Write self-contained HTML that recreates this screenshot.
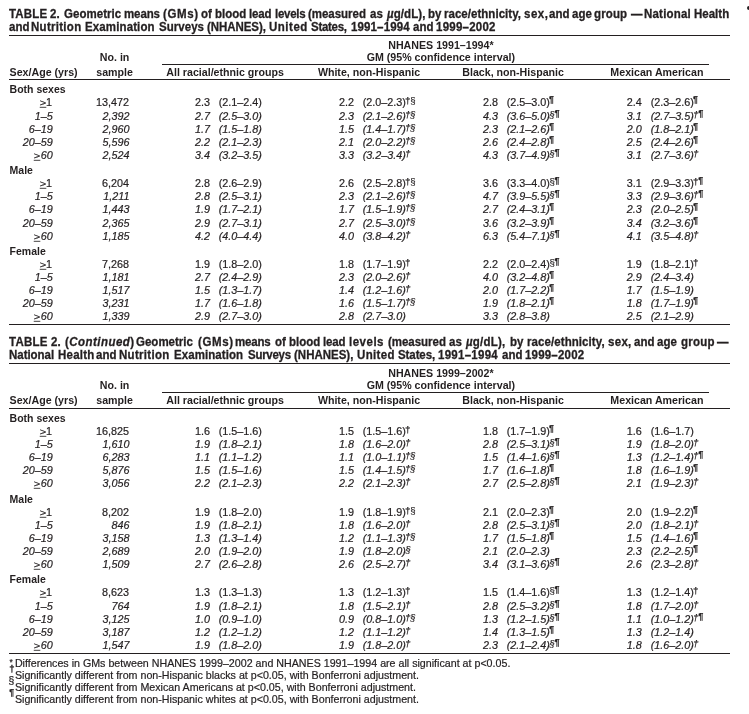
<!DOCTYPE html>
<html lang="en"><head><meta charset="utf-8"><title>TABLE 2</title><style>
html,body{margin:0;padding:0;background:#fff}
body{width:749px;height:714px;position:relative;overflow:hidden;font-family:"Liberation Sans",sans-serif;color:#231f20;font-size:10.80px}
.t{-webkit-text-stroke:0.2px #231f20;position:absolute;white-space:nowrap;line-height:14px;font-size:10.80px}
.t span{white-space:nowrap}
.b{font-weight:bold;-webkit-text-stroke:0}
.tt{transform:scaleX(0.9274);transform-origin:0 0;-webkit-text-stroke:0.3px #231f20}
.i{font-style:italic}
.ge{font-style:normal;text-decoration:underline;display:inline-block;transform:scale(1.04,0.84);transform-origin:100% 78.6%}
.r{position:absolute;background:#231f20}
.sup{margin-left:-0.8px;line-height:1px}
.sd,.ss,.sp{position:relative;line-height:1px}
.sd{font-size:9.8px;top:-2px;-webkit-text-stroke:0.22px #231f20}
.ss{font-size:9.6px;top:-2px;margin-left:-0.4px;-webkit-text-stroke:0.15px #231f20}
.s1{margin-left:0.4px}
.ss+.sp,.sd+.sp{margin-left:-0.4px}
.sp{font-size:8.8px;top:-4px;font-weight:bold}
.pp{font-weight:bold}
.fsd{-webkit-text-stroke:0.35px #231f20}
.fs{font-size:8px}
</style></head><body>
<div class="t b tt" style="left:8.88px;top:7.00px;font-size:12.40px;letter-spacing:0.202px">TABLE</div>
<div class="t b tt" style="left:49.80px;top:7.00px;font-size:12.40px;">2.</div>
<div class="t b tt" style="left:63.65px;top:7.00px;font-size:12.40px;letter-spacing:0.040px">Geometric</div>
<div class="t b tt" style="left:123.78px;top:7.00px;font-size:12.40px;letter-spacing:-0.121px">means</div>
<div class="t b tt" style="left:162.75px;top:7.00px;font-size:12.40px;letter-spacing:0.674px">(GMs)</div>
<div class="t b tt" style="left:200.80px;top:7.00px;font-size:12.40px;">of</div>
<div class="t b tt" style="left:215.45px;top:7.00px;font-size:12.40px;letter-spacing:-0.027px">blood</div>
<div class="t b tt" style="left:248.75px;top:7.00px;font-size:12.40px;letter-spacing:-0.180px">lead</div>
<div class="t b tt" style="left:274.85px;top:7.00px;font-size:12.40px;letter-spacing:-0.300px">levels</div>
<div class="t b tt" style="left:308.40px;top:7.00px;font-size:12.40px;letter-spacing:-0.027px">(measured</div>
<div class="t b tt" style="left:370.00px;top:7.00px;font-size:12.40px;">as</div>
<div class="t b tt" style="left:386.73px;top:7.00px;font-size:12.40px;letter-spacing:0.081px"><i>µ</i>g/dL),</div>
<div class="t b tt" style="left:427.50px;top:7.00px;font-size:12.40px;">by</div>
<div class="t b tt" style="left:443.75px;top:7.00px;font-size:12.40px;letter-spacing:0.039px">race/ethnicity,</div>
<div class="t b tt" style="left:523.75px;top:7.00px;font-size:12.40px;letter-spacing:0.539px">sex,</div>
<div class="t b tt" style="left:548.50px;top:7.00px;font-size:12.40px;">and</div>
<div class="t b tt" style="left:572.00px;top:7.00px;font-size:12.40px;">age</div>
<div class="t b tt" style="left:593.75px;top:7.00px;font-size:12.40px;letter-spacing:0.135px">group</div>
<div class="t b tt" style="left:631.10px;top:7.00px;font-size:12.40px;">—</div>
<div class="t b tt" style="left:643.72px;top:7.00px;font-size:12.40px;letter-spacing:0.223px">National</div>
<div class="t b tt" style="left:693.53px;top:7.00px;font-size:12.40px;letter-spacing:0.011px">Health</div>
<div class="t b tt" style="left:8.60px;top:20.00px;font-size:12.40px;">and</div>
<div class="t b tt" style="left:31.15px;top:20.00px;font-size:12.40px;letter-spacing:0.310px">Nutrition</div>
<div class="t b tt" style="left:85.12px;top:20.00px;font-size:12.40px;letter-spacing:0.135px">Examination</div>
<div class="t b tt" style="left:158.62px;top:20.00px;font-size:12.40px;letter-spacing:0.045px">Surveys</div>
<div class="t b tt" style="left:207.25px;top:20.00px;font-size:12.40px;letter-spacing:-0.067px">(NHANES),</div>
<div class="t b tt" style="left:269.27px;top:20.00px;font-size:12.40px;letter-spacing:0.550px">United</div>
<div class="t b tt" style="left:311.32px;top:20.00px;font-size:12.40px;letter-spacing:-0.300px">States,</div>
<div class="t b tt" style="left:350.55px;top:20.00px;font-size:12.40px;letter-spacing:0.148px">1991–1994</div>
<div class="t b tt" style="left:413.10px;top:20.00px;font-size:12.40px;">and</div>
<div class="t b tt" style="left:436.45px;top:20.00px;font-size:12.40px;letter-spacing:0.256px">1999–2002</div>
<div class="r" style="left:9.10px;width:721.10px;top:35.00px;height:1.00px"></div>
<div class="t b" style="left:440.90px;width:0;display:flex;justify-content:center;top:38.00px;font-size:10.65px;"><span>NHANES 1991–1994*</span></div>
<div class="t b" style="left:440.90px;width:0;display:flex;justify-content:center;top:50.00px;font-size:10.65px;"><span>GM (95% confidence interval)</span></div>
<div class="t b" style="left:114.60px;width:0;display:flex;justify-content:center;top:50.00px;font-size:10.65px;"><span>No. in</span></div>
<div class="r" style="left:162.00px;width:546.80px;top:64.00px;height:1.00px"></div>
<div class="t b" style="left:9.60px;top:65.00px;font-size:10.65px;">Sex/Age (yrs)</div>
<div class="t b" style="left:114.60px;width:0;display:flex;justify-content:center;top:65.00px;font-size:10.65px;"><span>sample</span></div>
<div class="t b" style="left:225.10px;width:0;display:flex;justify-content:center;top:65.00px;font-size:10.65px;"><span>All racial/ethnic groups</span></div>
<div class="t b" style="left:369.00px;width:0;display:flex;justify-content:center;top:65.00px;font-size:10.65px;"><span>White, non-Hispanic</span></div>
<div class="t b" style="left:513.10px;width:0;display:flex;justify-content:center;top:65.00px;font-size:10.65px;"><span>Black, non-Hispanic</span></div>
<div class="t b" style="left:656.90px;width:0;display:flex;justify-content:center;top:65.00px;font-size:10.65px;"><span>Mexican American</span></div>
<div class="r" style="left:9.10px;width:721.10px;top:79.00px;height:1.00px"></div>
<div class="t b" style="left:9.60px;top:82.00px;font-size:10.50px;">Both sexes</div>
<div class="t " style="right:697.00px;top:95.00px;"><span class="ge">&gt;</span>1</div>
<div class="t " style="right:620.10px;top:95.00px;">13,472</div>
<div class="t " style="left:195.10px;top:95.00px;">2.3</div>
<div class="t " style="left:218.70px;top:95.00px;">(2.1–2.4)</div>
<div class="t " style="left:339.10px;top:95.00px;">2.2</div>
<div class="t " style="left:362.70px;top:95.00px;">(2.0–2.3)<span class="sup"><span class="sd">†</span><span class="ss">§</span></span></div>
<div class="t " style="left:483.00px;top:95.00px;">2.8</div>
<div class="t " style="left:506.70px;top:95.00px;">(2.5–3.0)<span class="sup"><span class="sp">¶</span></span></div>
<div class="t " style="left:626.70px;top:95.00px;">2.4</div>
<div class="t " style="left:650.70px;top:95.00px;">(2.3–2.6)<span class="sup"><span class="sp">¶</span></span></div>
<div class="t i" style="right:696.30px;top:109.00px;">1–5</div>
<div class="t i" style="right:619.50px;top:109.00px;">2,392</div>
<div class="t i" style="left:195.10px;top:109.00px;">2.7</div>
<div class="t i" style="left:218.70px;top:109.00px;">(2.5–3.0)</div>
<div class="t i" style="left:339.10px;top:109.00px;">2.3</div>
<div class="t i" style="left:362.70px;top:109.00px;">(2.1–2.6)<span class="sup"><span class="sd">†</span><span class="ss">§</span></span></div>
<div class="t i" style="left:483.00px;top:109.00px;">4.3</div>
<div class="t i" style="left:506.70px;top:109.00px;">(3.6–5.0)<span class="sup"><span class="ss s1">§</span><span class="sp">¶</span></span></div>
<div class="t i" style="left:626.70px;top:109.00px;">3.1</div>
<div class="t i" style="left:650.70px;top:109.00px;">(2.7–3.5)<span class="sup"><span class="sd">†</span><span class="sp">¶</span></span></div>
<div class="t i" style="right:696.30px;top:122.00px;">6–19</div>
<div class="t i" style="right:619.50px;top:122.00px;">2,960</div>
<div class="t i" style="left:195.10px;top:122.00px;">1.7</div>
<div class="t i" style="left:218.70px;top:122.00px;">(1.5–1.8)</div>
<div class="t i" style="left:339.10px;top:122.00px;">1.5</div>
<div class="t i" style="left:362.70px;top:122.00px;">(1.4–1.7)<span class="sup"><span class="sd">†</span><span class="ss">§</span></span></div>
<div class="t i" style="left:483.00px;top:122.00px;">2.3</div>
<div class="t i" style="left:506.70px;top:122.00px;">(2.1–2.6)<span class="sup"><span class="sp">¶</span></span></div>
<div class="t i" style="left:626.70px;top:122.00px;">2.0</div>
<div class="t i" style="left:650.70px;top:122.00px;">(1.8–2.1)<span class="sup"><span class="sp">¶</span></span></div>
<div class="t i" style="right:696.30px;top:135.00px;">20–59</div>
<div class="t i" style="right:619.50px;top:135.00px;">5,596</div>
<div class="t i" style="left:195.10px;top:135.00px;">2.2</div>
<div class="t i" style="left:218.70px;top:135.00px;">(2.1–2.3)</div>
<div class="t i" style="left:339.10px;top:135.00px;">2.1</div>
<div class="t i" style="left:362.70px;top:135.00px;">(2.0–2.2)<span class="sup"><span class="sd">†</span><span class="ss">§</span></span></div>
<div class="t i" style="left:483.00px;top:135.00px;">2.6</div>
<div class="t i" style="left:506.70px;top:135.00px;">(2.4–2.8)<span class="sup"><span class="sp">¶</span></span></div>
<div class="t i" style="left:626.70px;top:135.00px;">2.5</div>
<div class="t i" style="left:650.70px;top:135.00px;">(2.4–2.6)<span class="sup"><span class="sp">¶</span></span></div>
<div class="t i" style="right:696.30px;top:148.00px;"><span class="ge">&gt;</span>60</div>
<div class="t i" style="right:619.50px;top:148.00px;">2,524</div>
<div class="t i" style="left:195.10px;top:148.00px;">3.4</div>
<div class="t i" style="left:218.70px;top:148.00px;">(3.2–3.5)</div>
<div class="t i" style="left:339.10px;top:148.00px;">3.3</div>
<div class="t i" style="left:362.70px;top:148.00px;">(3.2–3.4)<span class="sup"><span class="sd">†</span></span></div>
<div class="t i" style="left:483.00px;top:148.00px;">4.3</div>
<div class="t i" style="left:506.70px;top:148.00px;">(3.7–4.9)<span class="sup"><span class="ss s1">§</span><span class="sp">¶</span></span></div>
<div class="t i" style="left:626.70px;top:148.00px;">3.1</div>
<div class="t i" style="left:650.70px;top:148.00px;">(2.7–3.6)<span class="sup"><span class="sd">†</span></span></div>
<div class="t b" style="left:9.60px;top:163.00px;font-size:10.50px;">Male</div>
<div class="t " style="right:697.00px;top:176.00px;"><span class="ge">&gt;</span>1</div>
<div class="t " style="right:620.10px;top:176.00px;">6,204</div>
<div class="t " style="left:195.10px;top:176.00px;">2.8</div>
<div class="t " style="left:218.70px;top:176.00px;">(2.6–2.9)</div>
<div class="t " style="left:339.10px;top:176.00px;">2.6</div>
<div class="t " style="left:362.70px;top:176.00px;">(2.5–2.8)<span class="sup"><span class="sd">†</span><span class="ss">§</span></span></div>
<div class="t " style="left:483.00px;top:176.00px;">3.6</div>
<div class="t " style="left:506.70px;top:176.00px;">(3.3–4.0)<span class="sup"><span class="ss s1">§</span><span class="sp">¶</span></span></div>
<div class="t " style="left:626.70px;top:176.00px;">3.1</div>
<div class="t " style="left:650.70px;top:176.00px;">(2.9–3.3)<span class="sup"><span class="sd">†</span><span class="sp">¶</span></span></div>
<div class="t i" style="right:696.30px;top:189.00px;">1–5</div>
<div class="t i" style="right:619.50px;top:189.00px;">1,211</div>
<div class="t i" style="left:195.10px;top:189.00px;">2.8</div>
<div class="t i" style="left:218.70px;top:189.00px;">(2.5–3.1)</div>
<div class="t i" style="left:339.10px;top:189.00px;">2.3</div>
<div class="t i" style="left:362.70px;top:189.00px;">(2.1–2.6)<span class="sup"><span class="sd">†</span><span class="ss">§</span></span></div>
<div class="t i" style="left:483.00px;top:189.00px;">4.7</div>
<div class="t i" style="left:506.70px;top:189.00px;">(3.9–5.5)<span class="sup"><span class="ss s1">§</span><span class="sp">¶</span></span></div>
<div class="t i" style="left:626.70px;top:189.00px;">3.3</div>
<div class="t i" style="left:650.70px;top:189.00px;">(2.9–3.6)<span class="sup"><span class="sd">†</span><span class="sp">¶</span></span></div>
<div class="t i" style="right:696.30px;top:202.00px;">6–19</div>
<div class="t i" style="right:619.50px;top:202.00px;">1,443</div>
<div class="t i" style="left:195.10px;top:202.00px;">1.9</div>
<div class="t i" style="left:218.70px;top:202.00px;">(1.7–2.1)</div>
<div class="t i" style="left:339.10px;top:202.00px;">1.7</div>
<div class="t i" style="left:362.70px;top:202.00px;">(1.5–1.9)<span class="sup"><span class="sd">†</span><span class="ss">§</span></span></div>
<div class="t i" style="left:483.00px;top:202.00px;">2.7</div>
<div class="t i" style="left:506.70px;top:202.00px;">(2.4–3.1)<span class="sup"><span class="sp">¶</span></span></div>
<div class="t i" style="left:626.70px;top:202.00px;">2.3</div>
<div class="t i" style="left:650.70px;top:202.00px;">(2.0–2.5)<span class="sup"><span class="sp">¶</span></span></div>
<div class="t i" style="right:696.30px;top:216.00px;">20–59</div>
<div class="t i" style="right:619.50px;top:216.00px;">2,365</div>
<div class="t i" style="left:195.10px;top:216.00px;">2.9</div>
<div class="t i" style="left:218.70px;top:216.00px;">(2.7–3.1)</div>
<div class="t i" style="left:339.10px;top:216.00px;">2.7</div>
<div class="t i" style="left:362.70px;top:216.00px;">(2.5–3.0)<span class="sup"><span class="sd">†</span><span class="ss">§</span></span></div>
<div class="t i" style="left:483.00px;top:216.00px;">3.6</div>
<div class="t i" style="left:506.70px;top:216.00px;">(3.2–3.9)<span class="sup"><span class="sp">¶</span></span></div>
<div class="t i" style="left:626.70px;top:216.00px;">3.4</div>
<div class="t i" style="left:650.70px;top:216.00px;">(3.2–3.6)<span class="sup"><span class="sp">¶</span></span></div>
<div class="t i" style="right:696.30px;top:229.00px;"><span class="ge">&gt;</span>60</div>
<div class="t i" style="right:619.50px;top:229.00px;">1,185</div>
<div class="t i" style="left:195.10px;top:229.00px;">4.2</div>
<div class="t i" style="left:218.70px;top:229.00px;">(4.0–4.4)</div>
<div class="t i" style="left:339.10px;top:229.00px;">4.0</div>
<div class="t i" style="left:362.70px;top:229.00px;">(3.8–4.2)<span class="sup"><span class="sd">†</span></span></div>
<div class="t i" style="left:483.00px;top:229.00px;">6.3</div>
<div class="t i" style="left:506.70px;top:229.00px;">(5.4–7.1)<span class="sup"><span class="ss s1">§</span><span class="sp">¶</span></span></div>
<div class="t i" style="left:626.70px;top:229.00px;">4.1</div>
<div class="t i" style="left:650.70px;top:229.00px;">(3.5–4.8)<span class="sup"><span class="sd">†</span></span></div>
<div class="t b" style="left:9.60px;top:244.00px;font-size:10.50px;">Female</div>
<div class="t " style="right:697.00px;top:257.00px;"><span class="ge">&gt;</span>1</div>
<div class="t " style="right:620.10px;top:257.00px;">7,268</div>
<div class="t " style="left:195.10px;top:257.00px;">1.9</div>
<div class="t " style="left:218.70px;top:257.00px;">(1.8–2.0)</div>
<div class="t " style="left:339.10px;top:257.00px;">1.8</div>
<div class="t " style="left:362.70px;top:257.00px;">(1.7–1.9)<span class="sup"><span class="sd">†</span></span></div>
<div class="t " style="left:483.00px;top:257.00px;">2.2</div>
<div class="t " style="left:506.70px;top:257.00px;">(2.0–2.4)<span class="sup"><span class="ss s1">§</span><span class="sp">¶</span></span></div>
<div class="t " style="left:626.70px;top:257.00px;">1.9</div>
<div class="t " style="left:650.70px;top:257.00px;">(1.8–2.1)<span class="sup"><span class="sd">†</span></span></div>
<div class="t i" style="right:696.30px;top:270.00px;">1–5</div>
<div class="t i" style="right:619.50px;top:270.00px;">1,181</div>
<div class="t i" style="left:195.10px;top:270.00px;">2.7</div>
<div class="t i" style="left:218.70px;top:270.00px;">(2.4–2.9)</div>
<div class="t i" style="left:339.10px;top:270.00px;">2.3</div>
<div class="t i" style="left:362.70px;top:270.00px;">(2.0–2.6)<span class="sup"><span class="sd">†</span></span></div>
<div class="t i" style="left:483.00px;top:270.00px;">4.0</div>
<div class="t i" style="left:506.70px;top:270.00px;">(3.2–4.8)<span class="sup"><span class="sp">¶</span></span></div>
<div class="t i" style="left:626.70px;top:270.00px;">2.9</div>
<div class="t i" style="left:650.70px;top:270.00px;">(2.4–3.4)</div>
<div class="t i" style="right:696.30px;top:283.00px;">6–19</div>
<div class="t i" style="right:619.50px;top:283.00px;">1,517</div>
<div class="t i" style="left:195.10px;top:283.00px;">1.5</div>
<div class="t i" style="left:218.70px;top:283.00px;">(1.3–1.7)</div>
<div class="t i" style="left:339.10px;top:283.00px;">1.4</div>
<div class="t i" style="left:362.70px;top:283.00px;">(1.2–1.6)<span class="sup"><span class="sd">†</span></span></div>
<div class="t i" style="left:483.00px;top:283.00px;">2.0</div>
<div class="t i" style="left:506.70px;top:283.00px;">(1.7–2.2)<span class="sup"><span class="sp">¶</span></span></div>
<div class="t i" style="left:626.70px;top:283.00px;">1.7</div>
<div class="t i" style="left:650.70px;top:283.00px;">(1.5–1.9)</div>
<div class="t i" style="right:696.30px;top:296.00px;">20–59</div>
<div class="t i" style="right:619.50px;top:296.00px;">3,231</div>
<div class="t i" style="left:195.10px;top:296.00px;">1.7</div>
<div class="t i" style="left:218.70px;top:296.00px;">(1.6–1.8)</div>
<div class="t i" style="left:339.10px;top:296.00px;">1.6</div>
<div class="t i" style="left:362.70px;top:296.00px;">(1.5–1.7)<span class="sup"><span class="sd">†</span><span class="ss">§</span></span></div>
<div class="t i" style="left:483.00px;top:296.00px;">1.9</div>
<div class="t i" style="left:506.70px;top:296.00px;">(1.8–2.1)<span class="sup"><span class="sp">¶</span></span></div>
<div class="t i" style="left:626.70px;top:296.00px;">1.8</div>
<div class="t i" style="left:650.70px;top:296.00px;">(1.7–1.9)<span class="sup"><span class="sp">¶</span></span></div>
<div class="t i" style="right:696.30px;top:309.00px;"><span class="ge">&gt;</span>60</div>
<div class="t i" style="right:619.50px;top:309.00px;">1,339</div>
<div class="t i" style="left:195.10px;top:309.00px;">2.9</div>
<div class="t i" style="left:218.70px;top:309.00px;">(2.7–3.0)</div>
<div class="t i" style="left:339.10px;top:309.00px;">2.8</div>
<div class="t i" style="left:362.70px;top:309.00px;">(2.7–3.0)</div>
<div class="t i" style="left:483.00px;top:309.00px;">3.3</div>
<div class="t i" style="left:506.70px;top:309.00px;">(2.8–3.8)</div>
<div class="t i" style="left:626.70px;top:309.00px;">2.5</div>
<div class="t i" style="left:650.70px;top:309.00px;">(2.1–2.9)</div>
<div class="r" style="left:9.10px;width:721.10px;top:324.00px;height:1.00px"></div>
<div class="t b tt" style="left:8.95px;top:335.00px;font-size:12.40px;letter-spacing:0.243px">TABLE</div>
<div class="t b tt" style="left:51.20px;top:335.00px;font-size:12.40px;">2.</div>
<div class="t b tt" style="left:64.82px;top:335.00px;font-size:12.40px;letter-spacing:0.501px">(<i>Continued</i>)</div>
<div class="t b tt" style="left:136.05px;top:335.00px;font-size:12.40px;letter-spacing:0.013px">Geometric</div>
<div class="t b tt" style="left:197.75px;top:335.00px;font-size:12.40px;letter-spacing:0.674px">(GMs)</div>
<div class="t b tt" style="left:235.12px;top:335.00px;font-size:12.40px;letter-spacing:-0.202px">means</div>
<div class="t b tt" style="left:274.50px;top:335.00px;font-size:12.40px;">of</div>
<div class="t b tt" style="left:288.95px;top:335.00px;font-size:12.40px;letter-spacing:-0.027px">blood</div>
<div class="t b tt" style="left:322.75px;top:335.00px;font-size:12.40px;letter-spacing:-0.180px">lead</div>
<div class="t b tt" style="left:349.28px;top:335.00px;font-size:12.40px;letter-spacing:0.550px">levels</div>
<div class="t b tt" style="left:387.90px;top:335.00px;font-size:12.40px;letter-spacing:-0.027px">(measured</div>
<div class="t b tt" style="left:448.50px;top:335.00px;font-size:12.40px;">as</div>
<div class="t b tt" style="left:466.13px;top:335.00px;font-size:12.40px;letter-spacing:0.225px"><i>µ</i>g/dL),</div>
<div class="t b tt" style="left:509.80px;top:335.00px;font-size:12.40px;">by</div>
<div class="t b tt" style="left:526.57px;top:335.00px;font-size:12.40px;letter-spacing:0.089px">race/ethnicity,</div>
<div class="t b tt" style="left:607.95px;top:335.00px;font-size:12.40px;letter-spacing:0.323px">sex,</div>
<div class="t b tt" style="left:634.00px;top:335.00px;font-size:12.40px;">and</div>
<div class="t b tt" style="left:657.30px;top:335.00px;font-size:12.40px;">age</div>
<div class="t b tt" style="left:681.00px;top:335.00px;font-size:12.40px;letter-spacing:0.270px">group</div>
<div class="t b tt" style="left:716.90px;top:335.00px;font-size:12.40px;">—</div>
<div class="t b tt" style="left:8.90px;top:348.00px;font-size:12.40px;letter-spacing:-0.031px">National</div>
<div class="t b tt" style="left:57.62px;top:348.00px;font-size:12.40px;letter-spacing:0.270px">Health</div>
<div class="t b tt" style="left:96.00px;top:348.00px;font-size:12.40px;">and</div>
<div class="t b tt" style="left:119.25px;top:348.00px;font-size:12.40px;letter-spacing:0.337px">Nutrition</div>
<div class="t b tt" style="left:173.90px;top:348.00px;font-size:12.40px;letter-spacing:0.086px">Examination</div>
<div class="t b tt" style="left:247.73px;top:348.00px;font-size:12.40px;letter-spacing:-0.300px">Surveys</div>
<div class="t b tt" style="left:294.00px;top:348.00px;font-size:12.40px;">(NHANES),</div>
<div class="t b tt" style="left:356.88px;top:348.00px;font-size:12.40px;letter-spacing:0.377px">United</div>
<div class="t b tt" style="left:397.75px;top:348.00px;font-size:12.40px;letter-spacing:-0.090px">States,</div>
<div class="t b tt" style="left:438.12px;top:348.00px;font-size:12.40px;letter-spacing:0.303px">1991–1994</div>
<div class="t b tt" style="left:502.00px;top:348.00px;font-size:12.40px;">and</div>
<div class="t b tt" style="left:524.80px;top:348.00px;font-size:12.40px;letter-spacing:0.216px">1999–2002</div>
<div class="r" style="left:9.10px;width:721.10px;top:363.00px;height:1.00px"></div>
<div class="t b" style="left:440.90px;width:0;display:flex;justify-content:center;top:366.00px;font-size:10.65px;"><span>NHANES 1999–2002*</span></div>
<div class="t b" style="left:440.90px;width:0;display:flex;justify-content:center;top:378.00px;font-size:10.65px;"><span>GM (95% confidence interval)</span></div>
<div class="t b" style="left:114.60px;width:0;display:flex;justify-content:center;top:378.00px;font-size:10.65px;"><span>No. in</span></div>
<div class="r" style="left:162.00px;width:546.80px;top:392.00px;height:1.00px"></div>
<div class="t b" style="left:9.60px;top:393.00px;font-size:10.65px;">Sex/Age (yrs)</div>
<div class="t b" style="left:114.60px;width:0;display:flex;justify-content:center;top:393.00px;font-size:10.65px;"><span>sample</span></div>
<div class="t b" style="left:225.10px;width:0;display:flex;justify-content:center;top:393.00px;font-size:10.65px;"><span>All racial/ethnic groups</span></div>
<div class="t b" style="left:369.00px;width:0;display:flex;justify-content:center;top:393.00px;font-size:10.65px;"><span>White, non-Hispanic</span></div>
<div class="t b" style="left:513.10px;width:0;display:flex;justify-content:center;top:393.00px;font-size:10.65px;"><span>Black, non-Hispanic</span></div>
<div class="t b" style="left:656.90px;width:0;display:flex;justify-content:center;top:393.00px;font-size:10.65px;"><span>Mexican American</span></div>
<div class="r" style="left:9.10px;width:721.10px;top:408.00px;height:1.00px"></div>
<div class="t b" style="left:9.60px;top:411.00px;font-size:10.50px;">Both sexes</div>
<div class="t " style="right:697.00px;top:424.00px;"><span class="ge">&gt;</span>1</div>
<div class="t " style="right:620.10px;top:424.00px;">16,825</div>
<div class="t " style="left:195.10px;top:424.00px;">1.6</div>
<div class="t " style="left:218.70px;top:424.00px;">(1.5–1.6)</div>
<div class="t " style="left:339.10px;top:424.00px;">1.5</div>
<div class="t " style="left:362.70px;top:424.00px;">(1.5–1.6)<span class="sup"><span class="sd">†</span></span></div>
<div class="t " style="left:483.00px;top:424.00px;">1.8</div>
<div class="t " style="left:506.70px;top:424.00px;">(1.7–1.9)<span class="sup"><span class="sp">¶</span></span></div>
<div class="t " style="left:626.70px;top:424.00px;">1.6</div>
<div class="t " style="left:650.70px;top:424.00px;">(1.6–1.7)</div>
<div class="t i" style="right:696.30px;top:437.00px;">1–5</div>
<div class="t i" style="right:619.50px;top:437.00px;">1,610</div>
<div class="t i" style="left:195.10px;top:437.00px;">1.9</div>
<div class="t i" style="left:218.70px;top:437.00px;">(1.8–2.1)</div>
<div class="t i" style="left:339.10px;top:437.00px;">1.8</div>
<div class="t i" style="left:362.70px;top:437.00px;">(1.6–2.0)<span class="sup"><span class="sd">†</span></span></div>
<div class="t i" style="left:483.00px;top:437.00px;">2.8</div>
<div class="t i" style="left:506.70px;top:437.00px;">(2.5–3.1)<span class="sup"><span class="ss s1">§</span><span class="sp">¶</span></span></div>
<div class="t i" style="left:626.70px;top:437.00px;">1.9</div>
<div class="t i" style="left:650.70px;top:437.00px;">(1.8–2.0)<span class="sup"><span class="sd">†</span></span></div>
<div class="t i" style="right:696.30px;top:450.00px;">6–19</div>
<div class="t i" style="right:619.50px;top:450.00px;">6,283</div>
<div class="t i" style="left:195.10px;top:450.00px;">1.1</div>
<div class="t i" style="left:218.70px;top:450.00px;">(1.1–1.2)</div>
<div class="t i" style="left:339.10px;top:450.00px;">1.1</div>
<div class="t i" style="left:362.70px;top:450.00px;">(1.0–1.1)<span class="sup"><span class="sd">†</span><span class="ss">§</span></span></div>
<div class="t i" style="left:483.00px;top:450.00px;">1.5</div>
<div class="t i" style="left:506.70px;top:450.00px;">(1.4–1.6)<span class="sup"><span class="ss s1">§</span><span class="sp">¶</span></span></div>
<div class="t i" style="left:626.70px;top:450.00px;">1.3</div>
<div class="t i" style="left:650.70px;top:450.00px;">(1.2–1.4)<span class="sup"><span class="sd">†</span><span class="sp">¶</span></span></div>
<div class="t i" style="right:696.30px;top:463.00px;">20–59</div>
<div class="t i" style="right:619.50px;top:463.00px;">5,876</div>
<div class="t i" style="left:195.10px;top:463.00px;">1.5</div>
<div class="t i" style="left:218.70px;top:463.00px;">(1.5–1.6)</div>
<div class="t i" style="left:339.10px;top:463.00px;">1.5</div>
<div class="t i" style="left:362.70px;top:463.00px;">(1.4–1.5)<span class="sup"><span class="sd">†</span><span class="ss">§</span></span></div>
<div class="t i" style="left:483.00px;top:463.00px;">1.7</div>
<div class="t i" style="left:506.70px;top:463.00px;">(1.6–1.8)<span class="sup"><span class="sp">¶</span></span></div>
<div class="t i" style="left:626.70px;top:463.00px;">1.8</div>
<div class="t i" style="left:650.70px;top:463.00px;">(1.6–1.9)<span class="sup"><span class="sp">¶</span></span></div>
<div class="t i" style="right:696.30px;top:476.00px;"><span class="ge">&gt;</span>60</div>
<div class="t i" style="right:619.50px;top:476.00px;">3,056</div>
<div class="t i" style="left:195.10px;top:476.00px;">2.2</div>
<div class="t i" style="left:218.70px;top:476.00px;">(2.1–2.3)</div>
<div class="t i" style="left:339.10px;top:476.00px;">2.2</div>
<div class="t i" style="left:362.70px;top:476.00px;">(2.1–2.3)<span class="sup"><span class="sd">†</span></span></div>
<div class="t i" style="left:483.00px;top:476.00px;">2.7</div>
<div class="t i" style="left:506.70px;top:476.00px;">(2.5–2.8)<span class="sup"><span class="ss s1">§</span><span class="sp">¶</span></span></div>
<div class="t i" style="left:626.70px;top:476.00px;">2.1</div>
<div class="t i" style="left:650.70px;top:476.00px;">(1.9–2.3)<span class="sup"><span class="sd">†</span></span></div>
<div class="t b" style="left:9.60px;top:492.00px;font-size:10.50px;">Male</div>
<div class="t " style="right:697.00px;top:505.00px;"><span class="ge">&gt;</span>1</div>
<div class="t " style="right:620.10px;top:505.00px;">8,202</div>
<div class="t " style="left:195.10px;top:505.00px;">1.9</div>
<div class="t " style="left:218.70px;top:505.00px;">(1.8–2.0)</div>
<div class="t " style="left:339.10px;top:505.00px;">1.9</div>
<div class="t " style="left:362.70px;top:505.00px;">(1.8–1.9)<span class="sup"><span class="sd">†</span><span class="ss">§</span></span></div>
<div class="t " style="left:483.00px;top:505.00px;">2.1</div>
<div class="t " style="left:506.70px;top:505.00px;">(2.0–2.3)<span class="sup"><span class="sp">¶</span></span></div>
<div class="t " style="left:626.70px;top:505.00px;">2.0</div>
<div class="t " style="left:650.70px;top:505.00px;">(1.9–2.2)<span class="sup"><span class="sp">¶</span></span></div>
<div class="t i" style="right:696.30px;top:518.00px;">1–5</div>
<div class="t i" style="right:619.50px;top:518.00px;">846</div>
<div class="t i" style="left:195.10px;top:518.00px;">1.9</div>
<div class="t i" style="left:218.70px;top:518.00px;">(1.8–2.1)</div>
<div class="t i" style="left:339.10px;top:518.00px;">1.8</div>
<div class="t i" style="left:362.70px;top:518.00px;">(1.6–2.0)<span class="sup"><span class="sd">†</span></span></div>
<div class="t i" style="left:483.00px;top:518.00px;">2.8</div>
<div class="t i" style="left:506.70px;top:518.00px;">(2.5–3.1)<span class="sup"><span class="ss s1">§</span><span class="sp">¶</span></span></div>
<div class="t i" style="left:626.70px;top:518.00px;">2.0</div>
<div class="t i" style="left:650.70px;top:518.00px;">(1.8–2.1)<span class="sup"><span class="sd">†</span></span></div>
<div class="t i" style="right:696.30px;top:531.00px;">6–19</div>
<div class="t i" style="right:619.50px;top:531.00px;">3,158</div>
<div class="t i" style="left:195.10px;top:531.00px;">1.3</div>
<div class="t i" style="left:218.70px;top:531.00px;">(1.3–1.4)</div>
<div class="t i" style="left:339.10px;top:531.00px;">1.2</div>
<div class="t i" style="left:362.70px;top:531.00px;">(1.1–1.3)<span class="sup"><span class="sd">†</span><span class="ss">§</span></span></div>
<div class="t i" style="left:483.00px;top:531.00px;">1.7</div>
<div class="t i" style="left:506.70px;top:531.00px;">(1.5–1.8)<span class="sup"><span class="sp">¶</span></span></div>
<div class="t i" style="left:626.70px;top:531.00px;">1.5</div>
<div class="t i" style="left:650.70px;top:531.00px;">(1.4–1.6)<span class="sup"><span class="sp">¶</span></span></div>
<div class="t i" style="right:696.30px;top:544.00px;">20–59</div>
<div class="t i" style="right:619.50px;top:544.00px;">2,689</div>
<div class="t i" style="left:195.10px;top:544.00px;">2.0</div>
<div class="t i" style="left:218.70px;top:544.00px;">(1.9–2.0)</div>
<div class="t i" style="left:339.10px;top:544.00px;">1.9</div>
<div class="t i" style="left:362.70px;top:544.00px;">(1.8–2.0)<span class="sup"><span class="ss s1">§</span></span></div>
<div class="t i" style="left:483.00px;top:544.00px;">2.1</div>
<div class="t i" style="left:506.70px;top:544.00px;">(2.0–2.3)</div>
<div class="t i" style="left:626.70px;top:544.00px;">2.3</div>
<div class="t i" style="left:650.70px;top:544.00px;">(2.2–2.5)<span class="sup"><span class="sp">¶</span></span></div>
<div class="t i" style="right:696.30px;top:557.00px;"><span class="ge">&gt;</span>60</div>
<div class="t i" style="right:619.50px;top:557.00px;">1,509</div>
<div class="t i" style="left:195.10px;top:557.00px;">2.7</div>
<div class="t i" style="left:218.70px;top:557.00px;">(2.6–2.8)</div>
<div class="t i" style="left:339.10px;top:557.00px;">2.6</div>
<div class="t i" style="left:362.70px;top:557.00px;">(2.5–2.7)<span class="sup"><span class="sd">†</span></span></div>
<div class="t i" style="left:483.00px;top:557.00px;">3.4</div>
<div class="t i" style="left:506.70px;top:557.00px;">(3.1–3.6)<span class="sup"><span class="ss s1">§</span><span class="sp">¶</span></span></div>
<div class="t i" style="left:626.70px;top:557.00px;">2.6</div>
<div class="t i" style="left:650.70px;top:557.00px;">(2.3–2.8)<span class="sup"><span class="sd">†</span></span></div>
<div class="t b" style="left:9.60px;top:572.00px;font-size:10.50px;">Female</div>
<div class="t " style="right:697.00px;top:585.00px;"><span class="ge">&gt;</span>1</div>
<div class="t " style="right:620.10px;top:585.00px;">8,623</div>
<div class="t " style="left:195.10px;top:585.00px;">1.3</div>
<div class="t " style="left:218.70px;top:585.00px;">(1.3–1.3)</div>
<div class="t " style="left:339.10px;top:585.00px;">1.3</div>
<div class="t " style="left:362.70px;top:585.00px;">(1.2–1.3)<span class="sup"><span class="sd">†</span></span></div>
<div class="t " style="left:483.00px;top:585.00px;">1.5</div>
<div class="t " style="left:506.70px;top:585.00px;">(1.4–1.6)<span class="sup"><span class="ss s1">§</span><span class="sp">¶</span></span></div>
<div class="t " style="left:626.70px;top:585.00px;">1.3</div>
<div class="t " style="left:650.70px;top:585.00px;">(1.2–1.4)<span class="sup"><span class="sd">†</span></span></div>
<div class="t i" style="right:696.30px;top:599.00px;">1–5</div>
<div class="t i" style="right:619.50px;top:599.00px;">764</div>
<div class="t i" style="left:195.10px;top:599.00px;">1.9</div>
<div class="t i" style="left:218.70px;top:599.00px;">(1.8–2.1)</div>
<div class="t i" style="left:339.10px;top:599.00px;">1.8</div>
<div class="t i" style="left:362.70px;top:599.00px;">(1.5–2.1)<span class="sup"><span class="sd">†</span></span></div>
<div class="t i" style="left:483.00px;top:599.00px;">2.8</div>
<div class="t i" style="left:506.70px;top:599.00px;">(2.5–3.2)<span class="sup"><span class="ss s1">§</span><span class="sp">¶</span></span></div>
<div class="t i" style="left:626.70px;top:599.00px;">1.8</div>
<div class="t i" style="left:650.70px;top:599.00px;">(1.7–2.0)<span class="sup"><span class="sd">†</span></span></div>
<div class="t i" style="right:696.30px;top:612.00px;">6–19</div>
<div class="t i" style="right:619.50px;top:612.00px;">3,125</div>
<div class="t i" style="left:195.10px;top:612.00px;">1.0</div>
<div class="t i" style="left:218.70px;top:612.00px;">(0.9–1.0)</div>
<div class="t i" style="left:339.10px;top:612.00px;">0.9</div>
<div class="t i" style="left:362.70px;top:612.00px;">(0.8–1.0)<span class="sup"><span class="sd">†</span><span class="ss">§</span></span></div>
<div class="t i" style="left:483.00px;top:612.00px;">1.3</div>
<div class="t i" style="left:506.70px;top:612.00px;">(1.2–1.5)<span class="sup"><span class="ss s1">§</span><span class="sp">¶</span></span></div>
<div class="t i" style="left:626.70px;top:612.00px;">1.1</div>
<div class="t i" style="left:650.70px;top:612.00px;">(1.0–1.2)<span class="sup"><span class="sd">†</span><span class="sp">¶</span></span></div>
<div class="t i" style="right:696.30px;top:625.00px;">20–59</div>
<div class="t i" style="right:619.50px;top:625.00px;">3,187</div>
<div class="t i" style="left:195.10px;top:625.00px;">1.2</div>
<div class="t i" style="left:218.70px;top:625.00px;">(1.2–1.2)</div>
<div class="t i" style="left:339.10px;top:625.00px;">1.2</div>
<div class="t i" style="left:362.70px;top:625.00px;">(1.1–1.2)<span class="sup"><span class="sd">†</span></span></div>
<div class="t i" style="left:483.00px;top:625.00px;">1.4</div>
<div class="t i" style="left:506.70px;top:625.00px;">(1.3–1.5)<span class="sup"><span class="sp">¶</span></span></div>
<div class="t i" style="left:626.70px;top:625.00px;">1.3</div>
<div class="t i" style="left:650.70px;top:625.00px;">(1.2–1.4)</div>
<div class="t i" style="right:696.30px;top:638.00px;"><span class="ge">&gt;</span>60</div>
<div class="t i" style="right:619.50px;top:638.00px;">1,547</div>
<div class="t i" style="left:195.10px;top:638.00px;">1.9</div>
<div class="t i" style="left:218.70px;top:638.00px;">(1.8–2.0)</div>
<div class="t i" style="left:339.10px;top:638.00px;">1.9</div>
<div class="t i" style="left:362.70px;top:638.00px;">(1.8–2.0)<span class="sup"><span class="sd">†</span></span></div>
<div class="t i" style="left:483.00px;top:638.00px;">2.3</div>
<div class="t i" style="left:506.70px;top:638.00px;">(2.1–2.4)<span class="sup"><span class="ss s1">§</span><span class="sp">¶</span></span></div>
<div class="t i" style="left:626.70px;top:638.00px;">1.8</div>
<div class="t i" style="left:650.70px;top:638.00px;">(1.6–2.0)<span class="sup"><span class="sd">†</span></span></div>
<div class="r" style="left:9.10px;width:721.10px;top:653.00px;height:1.00px"></div>
<div class="t " style="left:14.90px;top:656.00px;font-size:10.68px;">Differences in GMs between NHANES 1999–2002 and NHANES 1991–1994 are all significant at p&lt;0.05.</div>
<div class="t " style="left:9.60px;top:655.00px;font-size:8.40px;">*</div>
<div class="t " style="left:14.90px;top:668.00px;font-size:10.68px;">Significantly different from non-Hispanic blacks at p&lt;0.05, with Bonferroni adjustment.</div>
<div class="t fsd" style="left:9.20px;top:662.00px;font-size:9.50px;">†</div>
<div class="t " style="left:14.90px;top:680.00px;font-size:10.68px;">Significantly different from Mexican Americans at p&lt;0.05, with Bonferroni adjustment.</div>
<div class="t " style="left:8.60px;top:674.00px;font-size:10.40px;">§</div>
<div class="t " style="left:14.90px;top:692.00px;font-size:10.68px;">Significantly different from non-Hispanic whites at p&lt;0.05, with Bonferroni adjustment.</div>
<div class="t pp" style="left:9.20px;top:685.00px;font-size:8.70px;">¶</div>
<div style="position:absolute;left:746.5px;top:6px;width:3px;height:4px;background:#231f20;border-radius:2px 0 0 2px"></div>
</body></html>
